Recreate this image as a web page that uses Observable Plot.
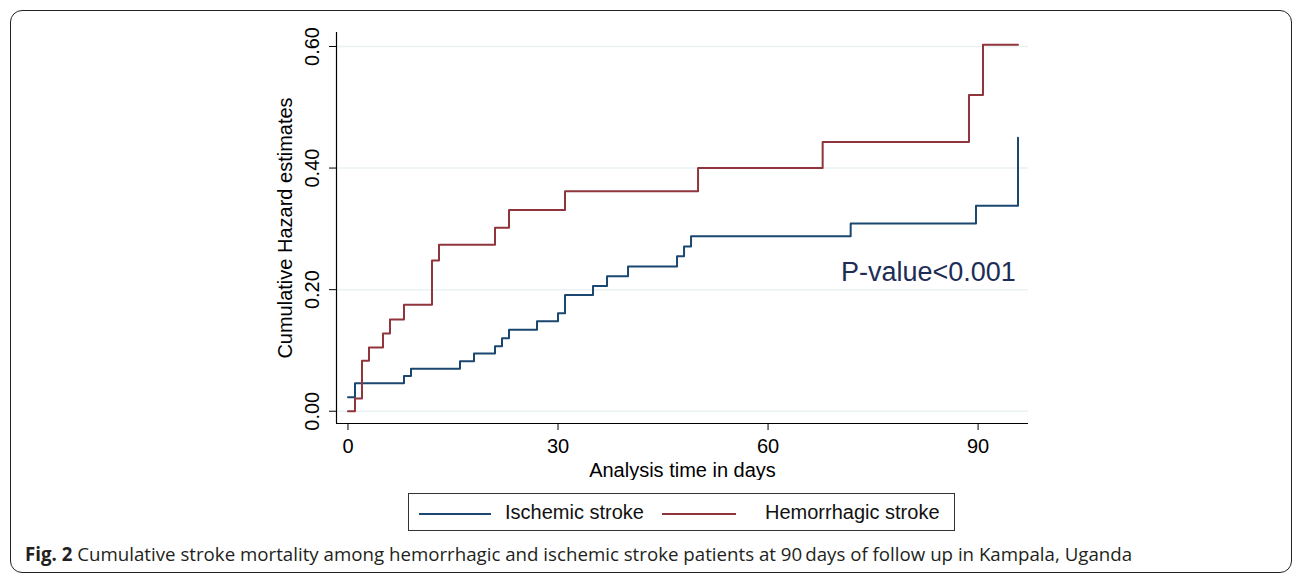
<!DOCTYPE html>
<html>
<head>
<meta charset="utf-8">
<script src="https://cdn.jsdelivr.net/npm/d3@7"></script>
<script src="https://cdn.jsdelivr.net/npm/@observablehq/plot@0.6"></script>
<style>
  html, body { margin: 0; padding: 0; background: #fff; }
  #wrap { position: relative; width: 1295px; height: 575px; overflow: hidden; }
  #border { position: absolute; left: 10px; top: 10px; width: 1282px; height: 563px; border: 1.5px solid #222; border-radius: 12px; box-sizing: border-box; }
  #chart { position: absolute; left: 0; top: 0; }
  #legend { position: absolute; left: 408px; top: 493px; width: 547px; height: 38px; border: 1px solid #333; box-sizing: border-box;
            font-family: "Liberation Sans", Arial, sans-serif; font-size: 20px; color: #111; }
  .item { position: absolute; top: 0; height: 36px; line-height: 36px; white-space: nowrap; }
  .swatch { position: absolute; top: 19px; height: 0; border-top: 2px solid; }
  #caption { position: absolute; left: 25px; top: 541px; font-family: "Open Sans", "Noto Sans", sans-serif; font-size: 18.7px; color: #231f20; white-space: nowrap; }
  #caption b { font-weight: 700; }
</style>
</head>
<body>
<div id="wrap">
  <div id="border"></div>
  <div id="chart"></div>
  <div id="legend"></div>
  <div id="caption"><b>Fig. 2</b> Cumulative stroke mortality among hemorrhagic and ischemic stroke patients at 90&#8201;days of follow up in Kampala, Uganda</div>
</div>
<script>
// ---- data ----
const seriesNames = ["Ischemic stroke", "Hemorrhagic stroke"];
const seriesColors = ["#1a476f", "#90353b"];

const ischemicDays   = [0, 1, 8, 9, 16, 18, 21, 22, 23, 27, 30, 31, 35, 37, 40, 47, 48, 49, 71.8, 89.7, 95.7];
const ischemicHazard = [0.023, 0.046, 0.058, 0.070, 0.082, 0.095, 0.107, 0.120, 0.134, 0.148, 0.161, 0.191, 0.206, 0.222, 0.238, 0.255, 0.271, 0.288, 0.309, 0.338, 0.450];

const hemorrhagicDays   = [0, 1, 2, 3, 5, 6, 8, 12, 13, 21, 23, 31, 50, 67.8, 88.7, 90.7, 95.7];
const hemorrhagicHazard = [0, 0.021, 0.083, 0.105, 0.128, 0.151, 0.175, 0.248, 0.274, 0.302, 0.331, 0.362, 0.400, 0.443, 0.520, 0.603, 0.603];

const xTicks = [0, 30, 60, 90];
const yTicks = [0, 0.2, 0.4, 0.6];
const xDomain = [-1.64, 97.2];
const yDomain = [-0.0202, 0.623];

const annotationText = "P-value<0.001";
const annotationDay = 95.4;
const annotationHazard = 0.228;

const xTitle = "Analysis time in days";
const yTitle = "Cumulative Hazard estimates";

// ---- build table ----
const rows = [];
ischemicDays.forEach((d, i) => rows.push({series: seriesNames[0], day: d, hazard: ischemicHazard[i]}));
hemorrhagicDays.forEach((d, i) => rows.push({series: seriesNames[1], day: d, hazard: hemorrhagicHazard[i]}));

const chart = Plot.plot({
  width: 1295,
  height: 480,
  marginLeft: 336,
  marginRight: 267,
  marginTop: 32,
  marginBottom: 57,
  style: {fontFamily: "'Liberation Sans', Arial, sans-serif", fontSize: "20px", color: "#000", background: "transparent"},
  x: {domain: xDomain},
  y: {domain: yDomain},
  color: {domain: seriesNames, range: seriesColors},
  marks: [
    Plot.gridY(yTicks, {stroke: "#eaf2f3", strokeOpacity: 1, strokeWidth: 1.5}),
    Plot.ruleX([xDomain[0]], {stroke: "#000", strokeWidth: 1.2}),
    Plot.ruleY([yDomain[0]], {stroke: "#000", strokeWidth: 1.2}),
    Plot.axisX({ticks: xTicks, tickSize: 7, tickPadding: 8, label: null, fontSize: 20}),
    Plot.axisY({ticks: yTicks, tickSize: 7, tickFormat: () => "", label: null}),
    Plot.text(yTicks, {y: d => d, frameAnchor: "left", text: d => d.toFixed(2), rotate: -90, dx: -24, textAnchor: "middle", lineAnchor: "middle", fontSize: 20}),
    Plot.text([yTitle], {frameAnchor: "left", text: d => d, rotate: -90, dx: -51, textAnchor: "middle", lineAnchor: "middle", fontSize: 20}),
    Plot.text([xTitle], {frameAnchor: "bottom", text: d => d, dy: 47, lineAnchor: "middle", fontSize: 20}),
    Plot.line(rows, {x: "day", y: "hazard", z: "series", stroke: "series", curve: "step-after", strokeWidth: 2}),
    Plot.text([annotationText], {x: () => annotationDay, y: () => annotationHazard, text: d => d, textAnchor: "end", lineAnchor: "middle", fontSize: 27, fill: "#1e2d55"})
  ]
});
document.getElementById("chart").appendChild(chart);

// ---- legend ----
const legend = document.getElementById("legend");
const legendLayout = [{swatchLeft: 10, swatchWidth: 72, textLeft: 96}, {swatchLeft: 253, swatchWidth: 74, textLeft: 356}];
seriesNames.forEach((name, i) => {
  const sw = document.createElement("div");
  sw.className = "swatch";
  sw.style.left = legendLayout[i].swatchLeft + "px";
  sw.style.width = legendLayout[i].swatchWidth + "px";
  sw.style.borderTopColor = seriesColors[i];
  legend.appendChild(sw);
  const t = document.createElement("div");
  t.className = "item";
  t.style.left = legendLayout[i].textLeft + "px";
  t.textContent = name;
  legend.appendChild(t);
});
</script>
</body>
</html>
